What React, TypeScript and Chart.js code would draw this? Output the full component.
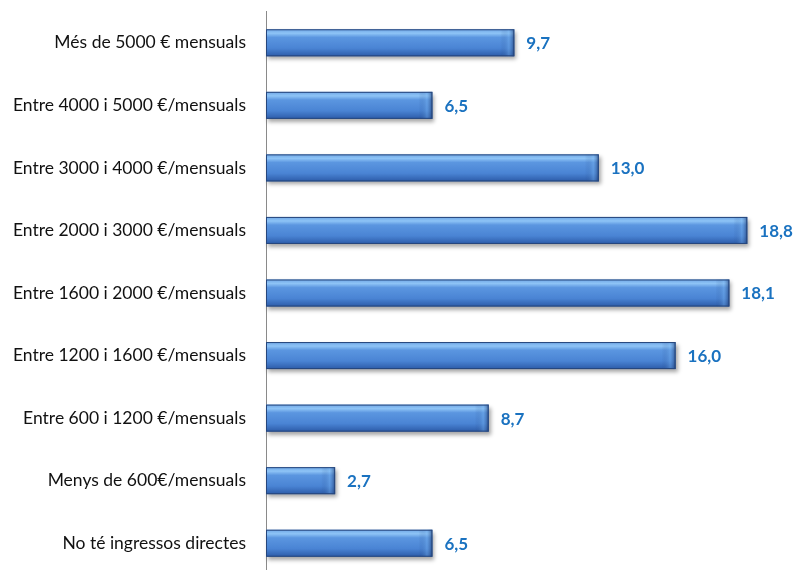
import React, { useEffect, useRef } from "react";
import { Chart, registerables } from "chart.js";

Chart.register(...registerables);

const categories = [
  "Més de 5000 € mensuals",
  "Entre 4000 i 5000 €/mensuals",
  "Entre 3000 i 4000 €/mensuals",
  "Entre 2000 i 3000 €/mensuals",
  "Entre 1600 i 2000 €/mensuals",
  "Entre 1200 i 1600 €/mensuals",
  "Entre 600 i 1200 €/mensuals",
  "Menys de 600€/mensuals",
  "No té ingressos directes",
];
const values = [9.7, 6.5, 13.0, 18.8, 18.1, 16.0, 8.7, 2.7, 6.5];

const FONT = "Lato, 'Open Sans', sans-serif";

const barPainter = {
  id: "barPainter",
  afterDatasetsDraw(chart: any) {
    const ctx = chart.ctx;
    const meta = chart.getDatasetMeta(0);
    meta.data.forEach((bar: any, i: number) => {
      const left = Math.min(bar.base, bar.x);
      const right = Math.max(bar.base, bar.x);
      const top = bar.y - bar.height / 2;
      const h = bar.height;
      const w = right - left;
      ctx.save();
      ctx.shadowColor = "rgba(0,0,0,0.35)";
      ctx.shadowBlur = 4;
      ctx.shadowOffsetX = 2;
      ctx.shadowOffsetY = 3;
      const g = ctx.createLinearGradient(0, top, 0, top + h);
      g.addColorStop(0, "#6fa6e6");
      g.addColorStop(0.15, "#8ec4f6");
      g.addColorStop(0.3, "#5b96e0");
      g.addColorStop(0.7, "#4a84d4");
      g.addColorStop(1, "#2c5ba8");
      ctx.fillStyle = g;
      ctx.fillRect(left, top, w, h);
      ctx.restore();
      ctx.save();
      const gr = ctx.createLinearGradient(right - 14, 0, right, 0);
      gr.addColorStop(0, "rgba(20,50,110,0)");
      gr.addColorStop(0.6, "rgba(120,180,240,0.35)");
      gr.addColorStop(1, "rgba(20,45,100,0.6)");
      ctx.fillStyle = gr;
      ctx.fillRect(Math.max(left, right - 14), top, Math.min(14, w), h);
      ctx.strokeStyle = "#26467c";
      ctx.lineWidth = 1;
      ctx.strokeRect(left + 0.5, top + 0.5, w - 1, h - 1);
      ctx.restore();
      ctx.save();
      ctx.font = `bold 17px ${FONT}`;
      ctx.fillStyle = "#1a72c0";
      ctx.textAlign = "left";
      ctx.textBaseline = "middle";
      ctx.fillText(values[i].toFixed(1).replace(".", ","), right + 12, bar.y + 1);
      ctx.restore();
    });
  },
};

export default function App() {
  const ref = useRef<HTMLCanvasElement>(null);
  useEffect(() => {
    if (!ref.current) return;
    const chart = new Chart(ref.current, {
      type: "bar",
      data: {
        labels: categories,
        datasets: [
          {
            data: values,
            backgroundColor: "rgba(0,0,0,0)",
            borderWidth: 0,
            barPercentage: 0.432,
            categoryPercentage: 1,
          },
        ],
      },
      options: {
        indexAxis: "y",
        responsive: true,
        maintainAspectRatio: false,
        animation: false,
        layout: { padding: { top: 12, bottom: 15, right: 16, left: 0 } },
        plugins: { legend: { display: false }, tooltip: { enabled: false } },
        scales: {
          x: {
            min: 0,
            max: 20,
            display: false,
            grid: { display: false },
          },
          y: {
            afterFit(scale: any) {
              scale.width = 266;
            },
            grid: { display: false, drawTicks: false },
            border: { display: true, color: "#8a8a8a", width: 1 },
            ticks: {
              color: "#111",
              padding: 20,
              font: { size: 17.5, family: FONT },
            },
          },
        },
      },
      plugins: [barPainter],
    });
    return () => chart.destroy();
  }, []);
  return (
    <div style={{ position: "fixed", left: 0, top: -19, width: 794, height: 624, background: "#fff" }}>
      <canvas ref={ref} />
    </div>
  );
}
